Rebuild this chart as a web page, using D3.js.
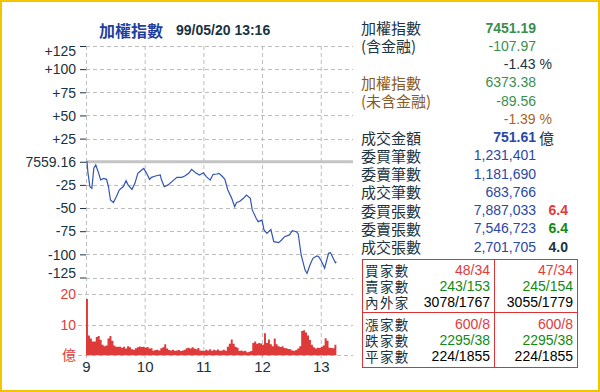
<!DOCTYPE html>
<html>
<head>
<meta charset="utf-8">
<script src="https://cdn.jsdelivr.net/npm/d3@7"></script>
<style>
  body { margin: 0; background: #fff; }
  svg { display: block; }
  text { font-family: "Liberation Sans", Arial, sans-serif; }
  .cjk { font-family: "Noto Sans CJK TC", "Noto Sans CJK JP", sans-serif; }
</style>
</head>
<body>
<svg id="chart" width="600" height="392"></svg>
<script>
// --- data ---
const refIndex = "7559.16";
// minutes after 09:00 and change vs. previous close
const minutes = [0, 1, 2, 4, 6, 8, 10, 13, 15, 18,
  21, 23, 25, 28, 31, 34, 36, 38, 41, 43,
  47, 50, 53, 57, 59, 62, 65, 67, 71, 76,
  77, 80, 84, 89, 93, 98, 101, 105, 108, 112,
  116, 120, 123, 125, 127, 130, 134, 136, 139, 142,
  145, 149, 152, 154, 157, 161, 164, 168, 170, 174,
  176, 180, 182, 185, 189, 192, 197, 200, 203, 208,
  211, 215, 217, 220, 224, 226, 229, 232, 236, 238,
  241, 244, 248, 250, 252, 255, 256];
const change = [0, 0, -12, -27, -28.7, -7, -3.5, -12.5, -19.7, -18,
  -19, -27, -41.3, -44, -37.7, -30.5, -28.7, -27, -20.4, -25,
  -29.8, -23.3, -12.5, -8.9, -7.1, -12.5, -19, -16.8, -15.4, -14.3,
  -19, -27, -25, -20.4, -16.8, -16.8, -15.4, -12.5, -8.2, -11.8,
  -14.3, -11.8, -16, -18, -19.7, -13.6, -13.2, -12.5, -15.4, -19,
  -30.5, -39.5, -48.5, -44, -43, -39.5, -35.9, -39.5, -52, -61,
  -64.7, -63, -73.7, -77.3, -73, -86.3, -87.4, -84.5, -80.9, -79,
  -74.4, -75.5, -78, -100.7, -117, -120.5, -111.5, -104.3, -101.8, -102.5,
  -107.9, -115, -98.9, -98.2, -102.5, -109, -107.97];

// turnover (億) per 2-minute bucket
const volume = [18.5, 6.5, 5.5, 4.5, 4.5, 6, 6.3, 5, 3.5, 3, 3.2, 5.5, 6.3, 4.8, 3.2, 2.8,
  2.8, 2.8, 2.5, 2.8, 2.2, 3, 2.6, 2, 1.8, 2.3, 2.6, 2.9, 2.7, 2.8, 2.5, 2.7,
  2.2, 2.3, 1.5, 1.7, 1.8, 1.6, 2.3, 2.6, 3.6, 2.2, 1.7, 1.6, 1.8, 1.5, 1.6, 1.7,
  1.4, 1.6, 1.8, 2.3, 2.5, 2.2, 2.6, 2.2, 2, 2.4, 1.6, 1.5, 1.4, 1.8, 1.6, 2,
  1.5, 1.8, 1.6, 1.9, 1.5, 1.6, 1.8, 1.5, 2.8, 3.8, 5.2, 3.8, 2.8, 2.5, 1.4, 1.6,
  1.3, 1.5, 1, 1.2, 1.4, 4, 4.5, 3.8, 4, 3.9, 3.5, 7.2, 4, 5.2, 3.6, 3,
  5.5, 3.6, 3, 2.7, 3, 2.4, 2.3, 2.1, 2, 1.6, 1.5, 1.7, 2.2, 3, 8, 8.2,
  7.5, 6.5, 5, 3.5, 2.6, 2.2, 2.5, 2.4, 2.8, 3.2, 5.6, 4.8, 2.5, 2.4, 2.3, 3.5];
const bucket = 2;

const hourTicks = [0, 60, 120, 180, 240];
const hourLabels = ["9", "10", "11", "12", "13"];
const changeTicks = [125, 100, 75, 50, 25, 0, -25, -50, -75, -100, -125];
const volumeTicks = [20, 10, 0];
const volumeLabels = ["20", "10", "億"];

const titleName = "加權指數";
const titleTime = "99/05/20 13:16";

const quoteLabels = ["加權指數", "(含金融)", "", "加權指數", "(未含金融)", "",
  "成交金額", "委買筆數", "委賣筆數", "成交筆數", "委買張數", "委賣張數", "成交張數"];
const quoteValues = ["7451.19", "-107.97", "-1.43 %", "6373.38", "-89.56", "-1.39 %",
  "751.61", "1,231,401", "1,181,690", "683,766", "7,887,033", "7,546,723", "2,701,705"];
const quoteRatios = ["", "", "", "", "", "", "", "", "", "", "6.4", "6.4", "4.0"];

const upLabels = ["買家數", "賣家數", "內外家"];
const upLeft = ["48/34", "243/153", "3078/1767"];
const upRight = ["47/34", "245/154", "3055/1779"];
const downLabels = ["漲家數", "跌家數", "平家數"];
const downLeft = ["600/8", "2295/38", "224/1855"];
const downRight = ["600/8", "2295/38", "224/1855"];

// --- styles ---
const dark = "#1a3340", blue = "#2a48a8", green = "#3a8f4f", brown = "#8b5a1a",
  red = "#e03c3c", gridColor = "#bdbdbd";
const labelColor = [dark, dark, dark, brown, brown, dark, dark, dark, dark, dark, dark, dark, dark];
const valueColor = [green, green, dark, green, green, "#a8661c", blue, blue, blue, blue, blue, blue, blue];
const valueBold = [true, false, false, false, false, false, true, false, false, false, false, false, false];
const ratioColor = ["", "", "", "", "", "", "", "", "", "", red, "#138a13", dark];

const svg = d3.select("#chart");

// yellow frame
svg.append("rect")
  .attr("x", 1).attr("y", 1).attr("width", 598).attr("height", 390)
  .attr("fill", "#fff").attr("stroke", "#f5c400").attr("stroke-width", 2);

// scales
const x = d3.scaleLinear().domain([0, 273]).range([86, 353]);
const y = d3.scaleLinear().domain([-125, 125]).range([277.5, 46]);
const yVol = d3.scaleLinear().domain([0, 20]).range([355.3, 294.3]);

// grid
const grid = svg.append("g")
  .attr("stroke", gridColor).attr("stroke-dasharray", "4,3").attr("fill", "none");

grid.selectAll(".v").data(hourTicks).enter().append("line")
  .attr("x1", d => x(d) + 0.5).attr("x2", d => x(d) + 0.5)
  .attr("y1", y(125)).attr("y2", 358);

grid.selectAll(".h").data(changeTicks.filter(d => d !== 0)).enter().append("line")
  .attr("x1", x(0)).attr("x2", x(273))
  .attr("y1", d => Math.round(y(d)) + 0.5).attr("y2", d => Math.round(y(d)) + 0.5);

grid.selectAll(".hv").data(volumeTicks).enter().append("line")
  .attr("x1", 78).attr("x2", x(273))
  .attr("y1", d => Math.round(yVol(d)) + 0.5).attr("y2", d => Math.round(yVol(d)) + 0.5);

// previous close reference line
svg.append("line")
  .attr("x1", x(0)).attr("x2", x(273))
  .attr("y1", y(0)).attr("y2", y(0))
  .attr("stroke", "#c4c4c4").attr("stroke-width", 3);

// left axis (change vs. previous close)
const yAxis = svg.append("g")
  .attr("transform", `translate(${x(0)},0)`)
  .call(d3.axisLeft(y).tickValues(changeTicks).tickSize(6).tickPadding(4)
    .tickFormat(d => d === 0 ? refIndex : (d > 0 ? "+" + d : String(d))));
yAxis.select(".domain").remove();
yAxis.selectAll("line").attr("stroke", dark);
yAxis.selectAll("text")
  .attr("fill", dark).attr("font-size", "14px")
  .attr("font-family", "'Liberation Sans', Arial, sans-serif")
  .attr("dy", d => d === 125 ? "0.68em" : (d === -125 ? "-0.02em" : "0.34em"));

// volume axis labels
svg.append("g").selectAll("text").data(volumeTicks).enter().append("text")
  .attr("class", (d, i) => volumeLabels[i] === "億" ? "cjk" : null)
  .attr("x", 76).attr("y", d => yVol(d))
  .attr("dy", "0.35em")
  .attr("text-anchor", "end")
  .attr("fill", red).attr("font-size", "14px")
  .text((d, i) => volumeLabels[i]);

// volume area (step per bucket)
const volPoints = volume.map((v, i) => [i * bucket, v]);
volPoints.push([volume.length * bucket, volume[volume.length - 1]]);
svg.append("path")
  .datum(volPoints)
  .attr("fill", "#df3a3a")
  .attr("d", d3.area().curve(d3.curveStepAfter)
    .x(d => x(d[0])).y0(yVol(0)).y1(d => yVol(d[1])));

// index line
svg.append("path")
  .datum(d3.zip(minutes, change))
  .attr("fill", "none")
  .attr("stroke", "#3254b4")
  .attr("stroke-width", 1.2)
  .attr("d", d3.line().x(d => x(d[0])).y(d => y(d[1])));

// hour labels
const xAxis = svg.append("g")
  .attr("transform", "translate(0,355)")
  .call(d3.axisBottom(x).tickValues(hourTicks).tickSize(0).tickPadding(6)
    .tickFormat((d, i) => hourLabels[i]));
xAxis.select(".domain").remove();
xAxis.selectAll("text")
  .attr("fill", dark).attr("font-size", "15px")
  .attr("font-family", "'Liberation Sans', Arial, sans-serif");

// title
svg.append("text").attr("class", "cjk")
  .attr("x", 99).attr("y", 30).attr("dominant-baseline", "central")
  .attr("font-size", "16px").attr("font-weight", "bold").attr("fill", "#1f3f9f")
  .text(titleName);
svg.append("text")
  .attr("x", 176).attr("y", 30).attr("dominant-baseline", "central")
  .attr("font-size", "14px").attr("font-weight", "bold").attr("fill", dark)
  .text(titleTime);

// right-hand quote panel
const rowY = i => 27.7 + i * 18.25;
const panel = svg.append("g");
quoteLabels.forEach((lab, i) => {
  if (lab) {
    panel.append("text").attr("class", "cjk")
      .attr("x", 361).attr("y", rowY(i)).attr("dominant-baseline", "central")
      .attr("font-size", "15px").attr("fill", labelColor[i])
      .text(lab);
  }
  const isPct = quoteValues[i].endsWith("%");
  panel.append("text")
    .attr("x", isPct ? 552 : 536).attr("y", rowY(i)).attr("dominant-baseline", "central")
    .attr("text-anchor", "end")
    .attr("font-size", "14px")
    .attr("font-weight", valueBold[i] ? "bold" : "normal")
    .attr("fill", valueColor[i])
    .text(quoteValues[i]);
  if (quoteRatios[i]) {
    panel.append("text")
      .attr("x", 568).attr("y", rowY(i)).attr("dominant-baseline", "central")
      .attr("text-anchor", "end")
      .attr("font-size", "14px").attr("font-weight", "bold")
      .attr("fill", ratioColor[i])
      .text(quoteRatios[i]);
  }
});
// unit after turnover
panel.append("text").attr("class", "cjk")
  .attr("x", 539).attr("y", rowY(6)).attr("dominant-baseline", "central")
  .attr("font-size", "15px").attr("fill", dark)
  .text("億");

// advance / decline table
const table = svg.append("g");
table.append("rect")
  .attr("x", 362.5).attr("y", 259.5).attr("width", 215).attr("height", 108)
  .attr("fill", "none").attr("stroke", "#dd3333");
table.append("line")
  .attr("x1", 494.5).attr("x2", 494.5).attr("y1", 259.5).attr("y2", 367.5)
  .attr("stroke", "#dd3333");
table.append("line")
  .attr("x1", 362.5).attr("x2", 577.5).attr("y1", 312.5).attr("y2", 312.5)
  .attr("stroke", "#dd3333");

const cellColor = [red, "#138a13", "#000"];
function block(labels, left, right, top) {
  labels.forEach((lab, i) => {
    const cy = top + i * 15.6;
    table.append("text").attr("class", "cjk")
      .attr("x", 365).attr("y", cy).attr("dominant-baseline", "central")
      .attr("font-size", "13.5px").attr("letter-spacing", "1.4px").attr("fill", dark)
      .text(lab);
    table.append("text")
      .attr("x", 490).attr("y", cy).attr("dominant-baseline", "central")
      .attr("text-anchor", "end").attr("font-size", "14px").attr("fill", cellColor[i])
      .text(left[i]);
    table.append("text")
      .attr("x", 573).attr("y", cy).attr("dominant-baseline", "central")
      .attr("text-anchor", "end").attr("font-size", "14px").attr("fill", cellColor[i])
      .text(right[i]);
  });
}
block(upLabels, upLeft, upRight, 270.3);
block(downLabels, downLeft, downRight, 324.3);
</script>
</body>
</html>
